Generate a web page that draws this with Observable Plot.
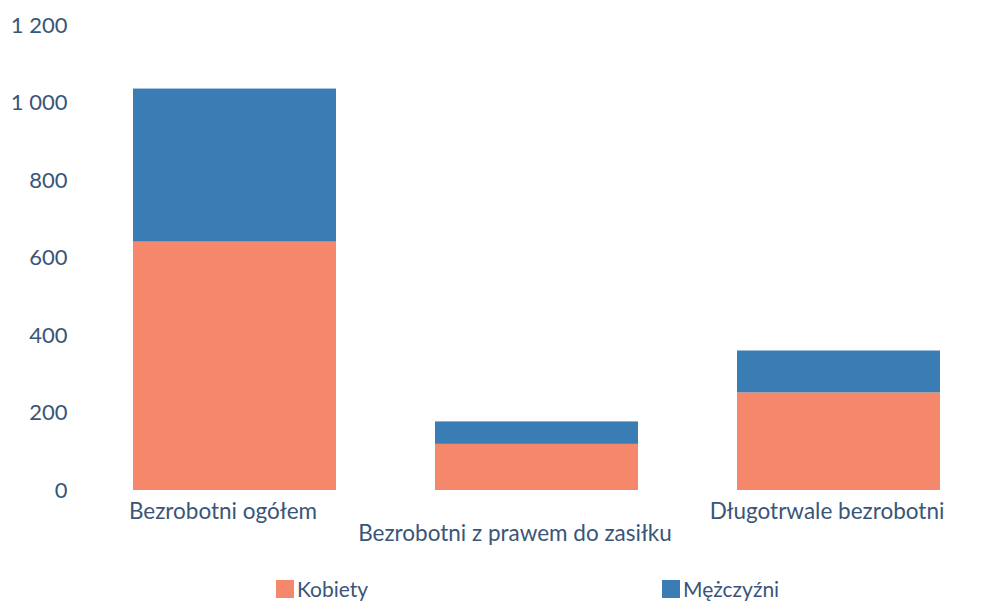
<!DOCTYPE html>
<html><head><meta charset="utf-8">
<script src="https://cdn.jsdelivr.net/npm/d3@7"></script>
<script src="https://cdn.jsdelivr.net/npm/@observablehq/plot@0.6"></script>
<style>
body{margin:0;background:#fff;font-family:Lato,"Open Sans",sans-serif;}
#legend{position:relative;height:30px;font-size:21px;color:#3a5578;}
.item{position:absolute;top:4px;display:flex;align-items:center;}
.sw{width:18px;height:18px;margin-right:3px;}
</style></head><body>
<div id="chart"></div>
<div id="legend"></div>
<script>
const categories = ["Bezrobotni ogółem", "Bezrobotni z prawem do zasiłku", "Długotrwale bezrobotni"];
const series = ["Kobiety", "Mężczyźni"];
const kobiety = [641, 119, 252];
const mezczyzni = [395, 58, 108];
const yTicks = [0, 200, 400, 600, 800, 1000, 1200];
const colors = ["#f5876b", "#3a7db4"];

const data = [];
categories.forEach((c, i) => {
  data.push({category: c, series: series[0], value: kobiety[i]});
  data.push({category: c, series: series[1], value: mezczyzni[i]});
});

const fmt = d => d3.format(",")(d).replace(/,/g, " ");
const textColor = "#3a5578";

const chart = Plot.plot({
  width: 981,
  height: 572,
  marginTop: 25,
  marginBottom: 82,
  marginLeft: 83,
  marginRight: 0,
  style: {fontFamily: "Lato, 'Open Sans', sans-serif", fontSize: "22px", color: textColor, background: "#fff"},
  x: {domain: categories, range: [133, 940], paddingInner: 0.328, paddingOuter: 0, label: null},
  y: {domain: [0, 1200], label: null},
  color: {domain: series, range: colors},
  marks: [
    Plot.barY(data, Plot.stackY({x: "category", y: "value", fill: "series", order: series})),
    Plot.ruleY([0], {stroke: "#d5d8de", x1: 80, x2: 975}),
    Plot.axisY(yTicks, {tickSize: 0, tickPadding: 16, tickFormat: fmt, fill: textColor, fontSize: 22, label: null}),
    Plot.axisX([categories[0], categories[2]], {tickSize: 0, tickPadding: 13, dx: -12, fill: textColor, fontSize: 22.5, label: null}),
    Plot.axisX([categories[1]], {tickSize: 0, tickPadding: 35, dx: -22, fill: textColor, fontSize: 22.5, label: null})
  ]
});
document.getElementById("chart").appendChild(chart);

const legend = document.getElementById("legend");
const pos = [276, 662];
series.forEach((s, i) => {
  const it = document.createElement("div");
  it.className = "item";
  it.style.left = pos[i] + "px";
  it.innerHTML = `<span class="sw" style="background:${colors[i]}"></span><span>${s}</span>`;
  legend.appendChild(it);
});
</script>
</body></html>
